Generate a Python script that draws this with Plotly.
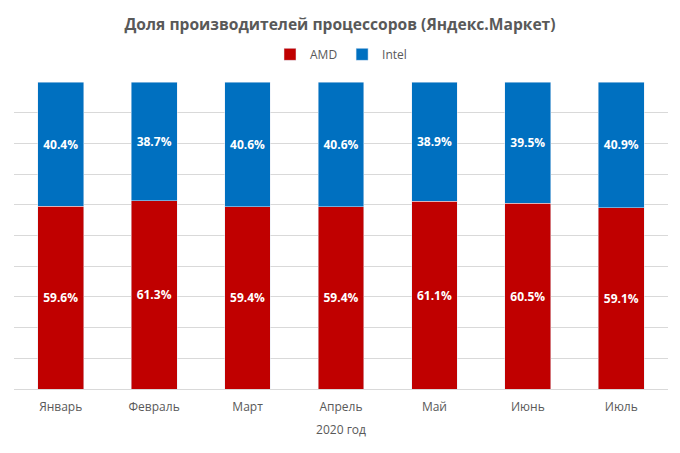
import plotly.graph_objects as go

months = ["Январь", "Февраль", "Март", "Апрель", "Май", "Июнь", "Июль"]
amd = [59.6, 61.3, 59.4, 59.4, 61.1, 60.5, 59.1]
intel = [40.4, 38.7, 40.6, 40.6, 38.9, 39.5, 40.9]

fig = go.Figure()
fig.add_trace(go.Bar(x=months, y=amd, name="AMD", marker_color="#C00000",
                     text=[f"{v:.1f}%" for v in amd]))
fig.add_trace(go.Bar(x=months, y=intel, name="Intel", marker_color="#0070C0",
                     text=[f"{v:.1f}%" for v in intel]))

fig.update_traces(textposition="inside", insidetextanchor="middle",
                  texttemplate="<b>%{text}</b>",
                  textfont=dict(color="white", size=12, family="Open Sans"))

fig.update_layout(
    barmode="stack",
    bargap=0.51,
    width=680, height=453,
    margin=dict(l=14, r=12, t=82, b=64, autoexpand=False),
    paper_bgcolor="white", plot_bgcolor="white",
    font=dict(family="Open Sans", color="#595959", size=12),
    title=dict(text="<b>Доля производителей процессоров (Яндекс.Маркет)</b>",
               x=0.5, xanchor="center", y=0.945, yanchor="middle",
               font=dict(size=15.6, color="#595959")),
    legend=dict(orientation="h", x=0.5, xanchor="center", y=1.09, yanchor="middle",
                font=dict(size=12, color="#595959"), traceorder="normal",
                itemwidth=30, entrywidth=0),
    uniformtext=dict(mode="show", minsize=12),
)
fig.update_xaxes(title=dict(text="2020 год", standoff=11, font=dict(size=12)),
                 showline=True, linecolor="#D9D9D9", ticks="", ticklabelstandoff=7,
                 tickfont=dict(size=12))
fig.update_yaxes(range=[0, 100], dtick=10, showticklabels=False,
                 showgrid=True, gridcolor="#D9D9D9", zeroline=False)

fig.write_html("out.html", config={"displayModeBar": False},
               post_script="document.body.style.margin='0';")
